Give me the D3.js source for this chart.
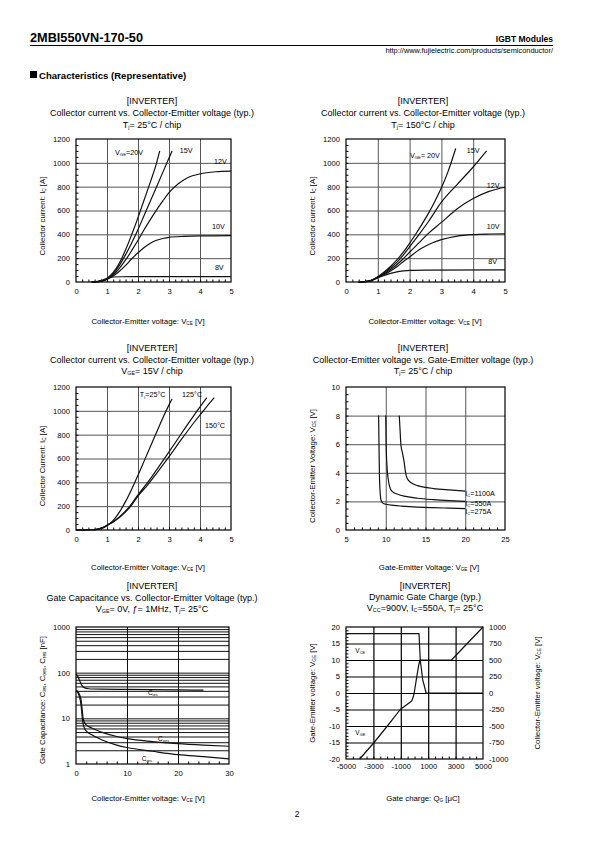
<!DOCTYPE html>
<html>
<head>
<meta charset="utf-8">
<script src="https://cdn.jsdelivr.net/npm/d3@7"></script>
<style>
  html,body{margin:0;padding:0;background:#fff;}
  svg{display:block;}
</style>
</head>
<body>
<script>
// ================== DATA ==================
// Chart 1: Tj = 25°C, Ic vs Vce for several Vge
const c1_vge20 = [[0.5,0],[0.7,3],[0.9,15],[1.0,30],[1.2,80],[1.4,160],[1.6,270],[1.8,400],[2.0,540],[2.2,690],[2.4,840],[2.6,1000],[2.7,1100]];
const c1_vge15 = [[0.5,0],[0.7,3],[0.9,14],[1.0,28],[1.2,70],[1.4,140],[1.6,230],[1.8,330],[2.0,440],[2.2,560],[2.4,680],[2.6,800],[2.8,920],[3.0,1040],[3.1,1100]];
const c1_vge12 = [[0.5,0],[0.7,3],[0.9,13],[1.0,25],[1.2,60],[1.4,115],[1.6,185],[1.8,265],[2.0,350],[2.2,440],[2.5,565],[2.8,680],[3.0,750],[3.3,825],[3.6,875],[4.0,908],[4.5,925],[5.0,930]];
const c1_vge10 = [[0.5,0],[0.7,3],[0.9,12],[1.0,22],[1.2,50],[1.4,90],[1.6,140],[1.8,195],[2.0,245],[2.2,290],[2.4,325],[2.6,350],[2.8,365],[3.0,375],[3.5,383],[4.0,387],[5.0,390]];
const c1_vge8  = [[0.5,0],[0.7,5],[0.9,20],[1.0,30],[1.1,38],[1.2,42],[1.5,44],[2.0,45],[5.0,45]];
const c1_labels = [["V_{GE}=20V",1.26,1065],["15V",3.35,1082],["12V",4.45,990],["10V",4.39,445],["8V",4.48,100]];

// Chart 2: Tj = 150°C
const c2_vge20 = [[0.4,0],[0.6,3],[0.8,15],[1.0,45],[1.2,85],[1.4,130],[1.6,185],[1.8,250],[2.0,325],[2.2,405],[2.4,490],[2.6,580],[2.8,680],[3.0,790],[3.2,920],[3.45,1120]];
const c2_vge15 = [[0.4,0],[0.6,3],[0.8,15],[1.0,42],[1.2,78],[1.4,118],[1.6,165],[1.8,225],[2.0,295],[2.3,400],[2.6,510],[3.0,670],[3.5,820],[4.0,965],[4.42,1100]];
const c2_vge12 = [[0.4,0],[0.6,3],[0.8,14],[1.0,40],[1.2,70],[1.4,105],[1.6,145],[1.8,195],[2.0,250],[2.3,330],[2.6,410],[3.0,500],[3.5,615],[4.0,700],[4.5,760],[5.0,795]];
const c2_vge10 = [[0.4,0],[0.6,3],[0.8,13],[1.0,38],[1.2,62],[1.4,92],[1.6,128],[1.8,170],[2.0,210],[2.3,270],[2.6,315],[3.0,355],[3.5,385],[4.0,398],[4.5,403],[5.0,405]];
const c2_vge8  = [[0.4,0],[0.6,3],[0.8,13],[1.0,35],[1.2,55],[1.4,72],[1.6,85],[1.8,93],[2.0,98],[2.5,100],[5.0,102]];
const c2_labels = [["V_{GE}= 20V",2.01,1040],["15V",3.8,1082],["12V",4.43,788],["10V",4.43,445],["8V",4.47,150]];

// Chart 3: Vge = 15V, Tj varies
const c3_t25  = [[0,0],[0.5,2],[0.7,6],[0.9,20],[1.0,35],[1.2,80],[1.4,150],[1.6,240],[1.8,345],[2.0,460],[2.2,580],[2.4,700],[2.6,820],[2.8,940],[3.0,1050],[3.1,1100]];
const c3_t125 = [[0,0],[0.5,2],[0.7,8],[0.9,25],[1.0,40],[1.2,70],[1.4,110],[1.6,160],[1.8,222],[2.0,295],[2.3,395],[2.6,505],[3.0,655],[3.4,810],[3.8,960],[4.22,1110]];
const c3_t150 = [[0,0],[0.5,2],[0.7,8],[0.9,25],[1.0,40],[1.2,68],[1.4,105],[1.6,152],[1.8,210],[2.0,285],[2.3,375],[2.6,475],[3.0,615],[3.4,760],[3.8,900],[4.2,1030],[4.46,1110]];
const c3_labels = [["T_{j}=25°C",2.06,1116],["125°C",3.42,1116],["150°C",4.16,856]];

// Chart 4: Vce vs Vge, Tj = 25°C
const c4_ic275  = [[9.1,8],[9.15,6],[9.2,4],[9.3,2.6],[9.4,2.1],[9.6,1.9],[10,1.8],[11,1.72],[12,1.67],[14,1.6],[16,1.56],[18,1.53],[20,1.5]];
const c4_ic550  = [[10.0,8],[10.05,6],[10.15,4.5],[10.3,3.6],[10.5,3.0],[10.8,2.7],[11.5,2.5],[12.5,2.35],[14,2.22],[16,2.12],[18,2.05],[20,2.0]];
const c4_ic1100 = [[11.7,8],[11.8,7],[11.9,6],[12.1,5.4],[12.3,4.8],[12.5,4.0],[12.7,3.6],[13.2,3.3],[14,3.1],[15,2.98],[16,2.9],[18,2.8],[20,2.72]];
const c4_labels = [["I_{C}=1100A",20,2.41],["I_{C}=550A",20,1.68],["I_{C}=275A",20,1.12]];

// Chart 5: capacitances (log scale)
const c5_cies = [[0,92],[0.3,85],[0.6,72],[0.9,60],[1.2,52],[1.6,47],[2.5,44.5],[5,43.5],[10,43],[15,42.5],[20,42],[25,41.5]];
const c5_coes = [[0,41],[0.4,38],[0.7,33],[1.0,25],[1.2,16],[1.4,10],[1.7,8],[2,7.2],[3,6.2],[5,5.0],[8,4.0],[10,3.6],[15,3.1],[20,2.8],[25,2.6],[30,2.45]];
const c5_cres = [[0,40],[0.4,36],[0.7,29],[1.0,19],[1.2,11],[1.4,7.5],[1.7,6],[2,5.3],[3,4.4],[5,3.4],[8,2.6],[10,2.3],[15,1.9],[20,1.6],[25,1.45],[30,1.3]];
const c5_labels = [["C_{ies}",14.1,32],["C_{oes}",16.1,3.19],["C_{res}",12.9,1.16]];

// Chart 6: dynamic gate charge
const c6_vge = [[-4000,-20],[-2950,-15],[-1980,-10],[-1040,-5],[-400,-3.0],[-200,-2.4],[-80,-1],[0,0.6],[150,4.5],[300,8.3],[400,10],[2700,10],[5000,20]];
const c6_vce = [[-5000,900],[330,900],[420,500],[600,200],[850,0],[5000,0]];
const c6_labels = [["V_{CE}",-4321,12.07],["V_{GE}",-4321,-12.7]];

// Tick values
const c12_xticks = [0,1,2,3,4,5];
const c12_yticks = [0,200,400,600,800,1000,1200];
const c4_xticks = [5,10,15,20,25];
const c4_yticks = [0,2,4,6,8,10];
const c5_xticks = [0,10,20,30];
const c5_yticks = [1,10,100,1000];
const c6_xticks = [-5000,-3000,-1000,1000,3000,5000];
const c6_yticksL = [-20,-15,-10,-5,0,5,10,15,20];
const c6_yticksR = [-1000,-750,-500,-250,0,250,500,750,1000];

// ================== DRAWING ==================
const FONT = "'Liberation Sans', Arial, Helvetica, sans-serif";
const TICK_FS = 7.6, AXT_FS = 7.8;
const fmt = d => String(d);
const svg = d3.select("body").append("svg").attr("width",595).attr("height",842)
  .attr("font-family",FONT);
svg.append("rect").attr("width",595).attr("height",842).attr("fill","#fff");

function rich(t, s){
  const parts = s.split(/(_\{[^}]*\})/);
  let prevSub = false;
  parts.forEach(p=>{
    if(!p) return;
    if(p.startsWith("_{")){
      t.append("tspan").attr("font-size","0.6em").attr("dy","0.25em").text(p.slice(2,-1));
      prevSub = true;
    } else {
      const ts = t.append("tspan").text(p);
      if(prevSub) ts.attr("dy","-0.15em");
      prevSub = false;
    }
  });
  return t;
}
function txt(x,y,s,opt={}){
  const t = svg.append("text").attr("x",x).attr("y",y)
    .attr("font-size",opt.fs||9).attr("text-anchor",opt.anchor||"middle")
    .attr("font-weight",opt.bold?"bold":"normal").attr("fill","#000");
  if(opt.rotate) t.attr("transform",`rotate(${opt.rotate},${x},${y})`);
  rich(t,s);
  return t;
}

// Header
txt(30,42,"2MBI550VN-170-50",{fs:12.5,bold:true,anchor:"start"}).attr("textLength",113).attr("lengthAdjust","spacingAndGlyphs");
txt(553,42,"IGBT Modules",{fs:8.5,bold:true,anchor:"end"});
svg.append("line").attr("x1",30).attr("x2",553).attr("y1",45.5).attr("y2",45.5).attr("stroke","#000").attr("stroke-width",1);
txt(553,53,"http://www.fujielectric.com/products/semiconductor/",{fs:7.4,anchor:"end"});
svg.append("rect").attr("x",30).attr("y",71).attr("width",7).attr("height",7).attr("fill","#000");
txt(39,79,"Characteristics (Representative)",{fs:9.6,bold:true,anchor:"start"});
txt(297,817,"2",{fs:8.5});

function panel(cfg){
  const x = d3.scaleLinear().domain(cfg.xd).range(cfg.xr);
  const y = (cfg.ylog? d3.scaleLog(): d3.scaleLinear()).domain(cfg.yd).range(cfg.yr);
  const g = svg.append("g");
  const Wp = cfg.xr[1]-cfg.xr[0], Hp = cfg.yr[0]-cfg.yr[1];
  const gc = cfg.gridColor||"#555", gw = cfg.gridW||1;
  g.append("g").attr("transform",`translate(0,${cfg.yr[0]})`)
    .call(d3.axisBottom(x).tickValues(cfg.xgrid).tickSize(-Hp).tickFormat(""))
    .call(s=>{s.select(".domain").remove(); s.selectAll("line").attr("stroke",gc).attr("stroke-width",gw);});
  g.append("g").attr("transform",`translate(${cfg.xr[0]},0)`)
    .call(d3.axisLeft(y).tickValues(cfg.ygrid).tickSize(-Wp).tickFormat(""))
    .call(s=>{s.select(".domain").remove(); s.selectAll("line").attr("stroke",gc).attr("stroke-width",gw);});
  if(cfg.xminor){
    g.append("g").attr("transform",`translate(0,${cfg.yr[0]})`)
      .call(d3.axisBottom(x).tickValues(cfg.xminor).tickSize(-2.5).tickFormat(""))
      .call(s=>{s.select(".domain").remove(); s.selectAll("line").attr("stroke","#000");});
  }
  if(cfg.yminor){
    g.append("g").attr("transform",`translate(${cfg.xr[0]},0)`)
      .call(d3.axisLeft(y).tickValues(cfg.yminor).tickSize(-2.5).tickFormat(""))
      .call(s=>{s.select(".domain").remove(); s.selectAll("line").attr("stroke","#000");});
  }
  g.append("rect").attr("x",cfg.xr[0]).attr("y",cfg.yr[1]).attr("width",Wp).attr("height",Hp)
    .attr("fill","none").attr("stroke","#000").attr("stroke-width",1.2);
  g.append("g").attr("transform",`translate(0,${cfg.yr[0]})`)
    .call(d3.axisBottom(x).tickValues(cfg.xticks).tickSize(0).tickPadding(cfg.xpad||6.5).tickFormat(fmt))
    .call(s=>{s.select(".domain").remove(); s.selectAll("text").attr("font-size",TICK_FS).attr("font-family",FONT).attr("fill","#000");});
  g.append("g").attr("transform",`translate(${cfg.xr[0]},0)`)
    .call(d3.axisLeft(y).tickValues(cfg.yticks).tickSize(0).tickPadding(6).tickFormat(fmt))
    .call(s=>{s.select(".domain").remove(); s.selectAll("text").attr("font-size",TICK_FS).attr("font-family",FONT).attr("fill","#000");});
  return {x,y,g};
}

function curves(p, list, yScale, curveType){
  const ys = yScale||p.y;
  const line = d3.line().x(d=>p.x(d[0])).y(d=>ys(d[1])).curve(curveType||d3.curveMonotoneX);
  list.forEach(data=>{
    p.g.append("path").attr("d",line(data)).attr("fill","none").attr("stroke","#111").attr("stroke-width",1.2)
      .attr("stroke-linejoin","round");
  });
}
function labels(p, list, fs, anchor, yScale){
  const ys = yScale||p.y;
  list.forEach(l=>{
    const t = p.g.append("text").attr("x",p.x(l[1])).attr("y",ys(l[2])).attr("font-size",fs||7)
      .attr("text-anchor",anchor||"start").attr("fill","#000");
    rich(t,l[0]);
  });
}
const titles = (cx,y0,lines)=>lines.forEach((s,i)=>txt(cx,y0[i],s,{fs:9}));

// ---- Chart 1 ----
titles(152,[104,116,128],["[INVERTER]","Collector current vs. Collector-Emitter voltage (typ.)","T_{j}= 25°C / chip"]);
const p1 = panel({xd:[0,5],yd:[0,1200],xr:[76,231],yr:[282,139],
  xgrid:[1,2,3,4],ygrid:[200,400,600,800,1000],
  xminor:d3.range(0.2,5,0.2),yminor:d3.range(50,1200,50),
  xticks:c12_xticks,yticks:c12_yticks});
curves(p1,[c1_vge20,c1_vge15,c1_vge12,c1_vge10,c1_vge8]);
labels(p1,c1_labels,7.2);
txt(148,324,"Collector-Emitter voltage: V_{CE} [V]",{fs:AXT_FS});
txt(45,216,"Collector current: I_{C} [A]",{fs:AXT_FS,rotate:-90});

// ---- Chart 2 ----
titles(423,[104,116,128],["[INVERTER]","Collector current vs. Collector-Emitter voltage (typ.)","T_{j}= 150°C / chip"]);
const p2 = panel({xd:[0,5],yd:[0,1200],xr:[346,505],yr:[282,139],
  xgrid:[1,2,3,4],ygrid:[200,400,600,800,1000],
  xminor:d3.range(0.2,5,0.2),yminor:d3.range(50,1200,50),
  xticks:c12_xticks,yticks:c12_yticks});
curves(p2,[c2_vge20,c2_vge15,c2_vge12,c2_vge10,c2_vge8]);
labels(p2,c2_labels,7.2);
txt(425,324,"Collector-Emitter voltage: V_{CE} [V]",{fs:AXT_FS});
txt(315,216,"Collector current: I_{C} [A]",{fs:AXT_FS,rotate:-90});

// ---- Chart 3 ----
titles(152,[351,363,374],["[INVERTER]","Collector current vs. Collector-Emitter voltage (typ.)","V_{GE}= 15V / chip"]);
const p3 = panel({xd:[0,5],yd:[0,1200],xr:[76,231],yr:[530,387],
  xgrid:[1,2,3,4],ygrid:[200,400,600,800,1000],
  xminor:d3.range(0.2,5,0.2),yminor:d3.range(50,1200,50),
  xticks:c12_xticks,yticks:c12_yticks});
curves(p3,[c3_t25,c3_t125,c3_t150]);
labels(p3,c3_labels,7.2);
txt(148,570,"Collector-Emitter Voltage: V_{CE} [V]",{fs:AXT_FS});
txt(45,466,"Collector Current: I_{C} [A]",{fs:AXT_FS,rotate:-90});

// ---- Chart 4 ----
titles(423,[351,363,374],["[INVERTER]","Collector-Emitter voltage  vs. Gate-Emitter voltage (typ.)","T_{j}= 25°C / chip"]);
const p4 = panel({xd:[5,25],yd:[0,10],xr:[346,505],yr:[530,387],
  xgrid:[10,15,20],ygrid:[2,4,6,8],
  xminor:d3.range(6,25,1),yminor:d3.range(0.5,10,0.5),
  xticks:c4_xticks,yticks:c4_yticks});
curves(p4,[c4_ic275,c4_ic550,c4_ic1100]);
labels(p4,c4_labels,7.2);
txt(429,570,"Gate-Emitter Voltage: V_{GE} [V]",{fs:AXT_FS});
txt(315,466,"Collector-Emitter Voltage: V_{CE} [V]",{fs:AXT_FS,rotate:-90});

// ---- Chart 5 ----
titles(152,[589,601,612],["[INVERTER]","Gate Capacitance vs. Collector-Emitter Voltage (typ.)","V_{GE}= 0V, ƒ= 1MHz, T_{j}= 25°C"]);
const logGrid = [];
[1,10,100].forEach(d=>{for(let k=1;k<=9;k++){ if(!(d===1&&k===1)) logGrid.push(d*k);} });
const p5 = panel({xd:[0,30],yd:[1,1000],ylog:true,xr:[76,229],yr:[764,627],
  xgrid:[10,20],ygrid:logGrid,gridColor:"#111",
  xminor:d3.range(2,30,2),
  xticks:c5_xticks,yticks:c5_yticks});
curves(p5,[c5_cies,c5_coes,c5_cres]);
labels(p5,c5_labels,6.5);
txt(148,801,"Collector-Emitter voltage: V_{CE} [V]",{fs:AXT_FS});
txt(45,700,"Gate Capacitance: C_{ies}, C_{oes}, C_{res} [nF]",{fs:AXT_FS,rotate:-90});

// ---- Chart 6 ----
titles(425,[589,600,611],["[INVERTER]","Dynamic Gate Charge (typ.)","V_{CC}=900V, I_{C}=550A, T_{j}= 25°C"]);
const p6 = panel({xd:[-5000,5000],yd:[-20,20],xr:[346,483],yr:[759,627],
  xgrid:[-3000,-1000,1000,3000],ygrid:[-15,-10,-5,0,5,10,15],gridColor:"#000",gridW:1.2,
  xminor:d3.range(-4500,5000,500),yminor:d3.range(-19,20,1),
  xticks:c6_xticks,yticks:c6_yticksL,xpad:5});
const yR = d3.scaleLinear().domain([-1000,1000]).range([759,627]);
p6.g.append("g").attr("transform","translate(483,0)")
  .call(d3.axisRight(yR).tickValues(c6_yticksR).tickSize(0).tickPadding(6).tickFormat(fmt))
  .call(s=>{s.select(".domain").remove(); s.selectAll("text").attr("font-size",TICK_FS).attr("font-family",FONT).attr("fill","#000");});
curves(p6,[c6_vge],null,d3.curveLinear);
curves(p6,[c6_vce],yR,d3.curveLinear);
labels(p6,c6_labels,6.5);
txt(423,801,"Gate charge: Q_{G} [μC]",{fs:AXT_FS});
txt(315,693,"Gate-Emitter voltage:  V_{GE} [V]",{fs:AXT_FS,rotate:-90});
txt(540,693,"Collector-Emitter voltage: V_{CE} [V]",{fs:AXT_FS,rotate:-90});
</script>
</body>
</html>
